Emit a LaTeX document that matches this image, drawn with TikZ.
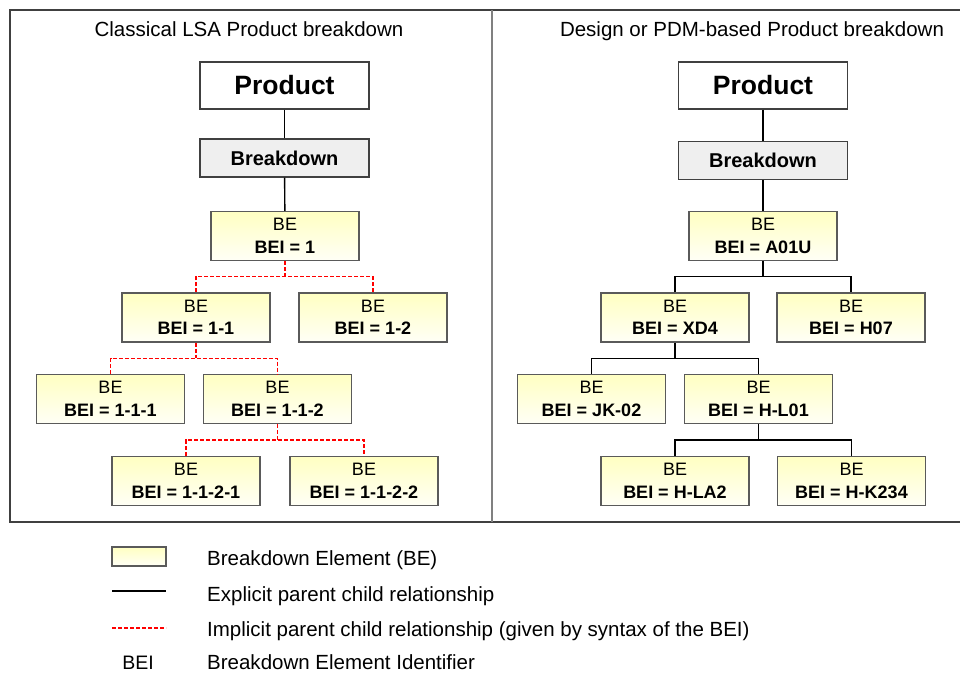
\documentclass[tikz,border=0pt]{standalone}
\usepackage{fontspec}
\setmainfont{Liberation Sans}
\usetikzlibrary{calc}

\definecolor{framecol}{HTML}{404040}
\definecolor{dividercol}{HTML}{808080}
\definecolor{boxline}{HTML}{5A5A5A}
\definecolor{beTop}{HTML}{FFFFC2}
\definecolor{beBot}{HTML}{FFFFF6}
\definecolor{brkfill}{HTML}{EFEFEF}
\definecolor{implicitcol}{HTML}{FF0000}

\begin{document}
\begin{tikzpicture}[x=1pt,y=-1pt,
  prodbox/.style={draw=framecol, line width=1.2pt, fill=white,
    minimum width=169pt, minimum height=47pt, inner sep=0pt,
    font=\fontsize{26.5}{30}\selectfont\bfseries},
  brkbox/.style={draw=framecol, line width=1.2pt, fill=brkfill,
    minimum width=169pt, minimum height=38pt, inner sep=0pt,
    font=\fontsize{20}{24}\selectfont\bfseries},
  bebox/.style={draw=boxline, line width=1.2pt, top color=beTop, bottom color=beBot,
    minimum width=148pt, minimum height=49pt, inner sep=0pt, align=center,
    font=\fontsize{18}{22.6}\selectfont},
  expl/.style={draw=black, line width=1.4pt},
  impl/.style={draw=implicitcol, line width=1.4pt, dash pattern=on 4pt off 2pt},
  paneltitle/.style={font=\fontsize{20.5}{24}\selectfont, anchor=base, inner sep=0pt},
  legendtext/.style={font=\fontsize{20.5}{24}\selectfont, anchor=base west, inner sep=0pt},
]
\useasboundingbox (0,0) rectangle (960,672);

% panel frames
\draw[framecol, line width=1.3pt] (962,10) -- (10,10) -- (10,522) -- (962,522);
\draw[dividercol, line width=2pt] (492,10) -- (492,522);

% panel titles
\node[paneltitle] (titleL) at (249,36.7) {Classical LSA Product breakdown};
\node[paneltitle] (titleR) at (752,36.7) {Design or PDM-based Product breakdown};

% ---------- classical LSA breakdown ----------
\node[prodbox] (prodL) at (284.5,85.5) {Product};
\node[brkbox]  (brkL)  at (284.5,158) {Breakdown};
\node[bebox] (be1)    at (285,236)   {BE\\\textbf{BEI = 1}};
\node[bebox] (be11)   at (196,317.5) {BE\\\textbf{BEI = 1-1}};
\node[bebox] (be12)   at (373,317.5) {BE\\\textbf{BEI = 1-2}};
\node[bebox] (be111)  at (110.5,399) {BE\\\textbf{BEI = 1-1-1}};
\node[bebox] (be112)  at (277.5,399) {BE\\\textbf{BEI = 1-1-2}};
\node[bebox] (be1121) at (186,481)   {BE\\\textbf{BEI = 1-1-2-1}};
\node[bebox] (be1122) at (364,481)   {BE\\\textbf{BEI = 1-1-2-2}};

\draw[expl] (prodL) -- (brkL);
\draw[expl] (brkL) -- (be1);

\coordinate (jL1) at ($(be1.south)!.5!(be1.south |- be11.north)$);
\draw[impl] (be1.south) -- (jL1);
\draw[impl] (be11.north) |- (jL1) -| (be12.north);

\coordinate (jL2) at ($(be11.south)!.5!(be11.south |- be111.north)$);
\draw[impl] (be11.south) -- (jL2);
\draw[impl] (be111.north) |- (jL2) -| (be112.north);

\coordinate (jL3) at ($(be112.south)!.5!(be112.south |- be1121.north)$);
\draw[impl] (be112.south) -- (jL3);
\draw[impl] (be1121.north) |- (jL3) -| (be1122.north);

% ---------- design / PDM-based breakdown ----------
\node[prodbox] (prodR) at (763,85.5) {Product};
\node[brkbox]  (brkR)  at (763,160.5) {Breakdown};
\node[bebox] (beA)   at (763,236)   {BE\\\textbf{BEI = A01U}};
\node[bebox] (beXD)  at (675,317.5) {BE\\\textbf{BEI = XD4}};
\node[bebox] (beH07) at (851,317.5) {BE\\\textbf{BEI = H07}};
\node[bebox] (beJK)  at (591.5,399) {BE\\\textbf{BEI = JK-02}};
\node[bebox] (beHL)  at (758.5,399) {BE\\\textbf{BEI = H-L01}};
\node[bebox] (beLA)  at (675,481)   {BE\\\textbf{BEI = H-LA2}};
\node[bebox] (beK)   at (851.5,481) {BE\\\textbf{BEI = H-K234}};

\draw[expl] (prodR) -- (brkR);
\draw[expl] (brkR) -- (beA);

\coordinate (jR1) at ($(beA.south)!.5!(beA.south |- beXD.north)$);
\draw[expl] (beA.south) -- (jR1);
\draw[expl] (beXD.north) |- (jR1) -| (beH07.north);

\coordinate (jR2) at ($(beXD.south)!.5!(beXD.south |- beJK.north)$);
\draw[expl] (beXD.south) -- (jR2);
\draw[expl] (beJK.north) |- (jR2) -| (beHL.north);

\coordinate (jR3) at ($(beHL.south)!.5!(beHL.south |- beLA.north)$);
\draw[expl] (beHL.south) -- (jR3);
\draw[expl] (beLA.north) |- (jR3) -| (beK.north);

% ---------- legend ----------
\node[bebox, minimum width=54pt, minimum height=19pt] (legBE) at (139,556.5) {};
\coordinate (legExplA) at (112,591);
\coordinate (legExplB) at (166,591);
\draw[expl] (legExplA) -- (legExplB);
\coordinate (legImplA) at (112,628);
\coordinate (legImplB) at (166,628);
\draw[impl] (legImplA) -- (legImplB);
\node[font=\fontsize{19.5}{24}\selectfont, anchor=base, inner sep=0pt] (legBEI) at (138,669.5) {BEI};

\node[legendtext] (legT1) at (207,565)   {Breakdown Element (BE)};
\node[legendtext] (legT2) at (207,601)   {Explicit parent child relationship};
\node[legendtext] (legT3) at (207,636)   {Implicit parent child relationship (given by syntax of the BEI)};
\node[legendtext] (legT4) at (207,669.5) {Breakdown Element Identifier};
\end{tikzpicture}
\end{document}
